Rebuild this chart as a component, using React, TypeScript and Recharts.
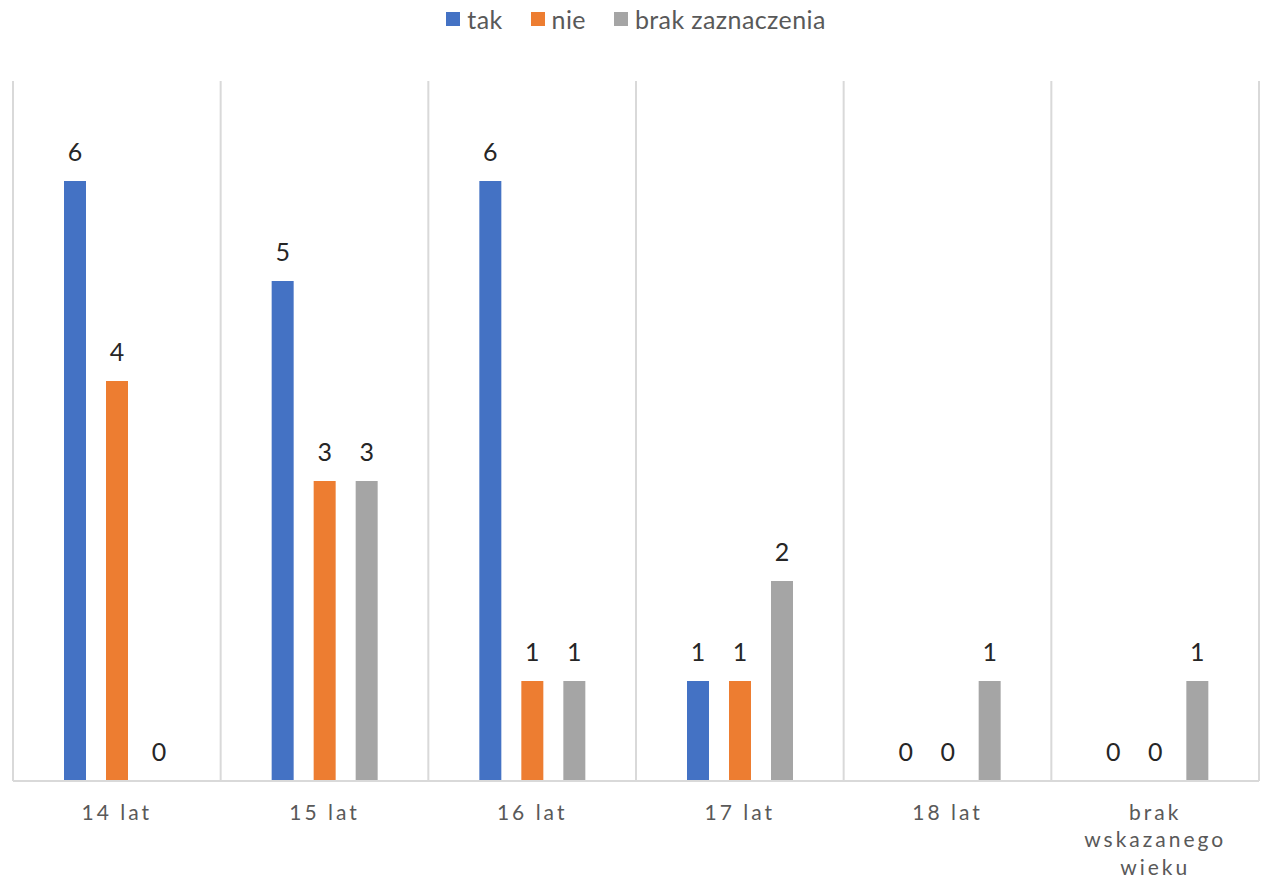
import React from 'react';
import { BarChart, Bar, XAxis, YAxis, CartesianGrid, Legend, LabelList, Text } from 'recharts';

const categories = ['14 lat', '15 lat', '16 lat', '17 lat', '18 lat', 'brak wskazanego wieku'];
const takValues = [6, 5, 6, 1, 0, 0];
const nieValues = [4, 3, 1, 1, 0, 0];
const brakValues = [0, 3, 1, 2, 1, 1];
const seriesNames = ['tak', 'nie', 'brak zaznaczenia'];
const seriesKeys = ['tak', 'nie', 'brak'];
const seriesColors = ['#4472C4', '#ED7D31', '#A5A5A5'];

const data = categories.map((c, i) => ({
  name: c,
  tak: takValues[i],
  nie: nieValues[i],
  brak: brakValues[i],
}));

const FONT = 'Lato, "Open Sans", sans-serif';

const Tick = (props: any) => {
  const { x, y, payload } = props;
  return (
    <Text
      x={x}
      y={y + 16}
      width={80}
      textAnchor="middle"
      verticalAnchor="start"
      lineHeight={27.5}
      style={{ fontFamily: FONT, fontSize: 21, letterSpacing: 3, fill: '#595959' }}
    >
      {payload.value}
    </Text>
  );
};

const ValueLabel = (props: any) => {
  const { x, y, width, value } = props;
  if (value === undefined || value === null) return null;
  return (
    <text
      x={Number(x) + Number(width) / 2}
      y={Number(y) - 20}
      textAnchor="middle"
      style={{ fontFamily: FONT, fontSize: 25, fill: '#262626' }}
    >
      {value}
    </text>
  );
};

const LegendContent = () => (
  <div style={{ display: 'flex', justifyContent: 'center', gap: 28, fontFamily: FONT, fontSize: 25, color: '#595959' }}>
    {seriesNames.map((n, i) => (
      <div key={n} style={{ display: 'flex', alignItems: 'center' }}>
        <span style={{ display: 'inline-block', width: 14, height: 14, background: seriesColors[i], marginRight: 7 }} />
        <span style={{ letterSpacing: 0.4 }}>{n}</span>
      </div>
    ))}
  </div>
);

export default function App() {
  return (
    <div style={{ position: 'absolute', left: 0, top: 0, background: '#fff' }}>
      <BarChart
        width={1263}
        height={883}
        data={data}
        margin={{ top: 51, right: 4, left: 13, bottom: 0 }}
        barGap={20}
        barSize={22}
      >
        <CartesianGrid
          horizontal={false}
          stroke="#D9D9D9"
          strokeWidth={2}
          verticalCoordinatesGenerator={({ offset }: any) =>
            [...categories.map((_, i) => offset.left + (i * offset.width) / categories.length), offset.left + offset.width]
          }
        />
        <XAxis
          dataKey="name"
          tick={<Tick />}
          tickLine={false}
          axisLine={{ stroke: '#D9D9D9', strokeWidth: 2 }}
          interval={0}
          height={102}
        />
        <YAxis domain={[0, 7]} hide />
        <Legend verticalAlign="top" align="center" wrapperStyle={{ top: 4 }} content={<LegendContent />} />
        {seriesKeys.map((k, i) => (
          <Bar key={k} dataKey={k} name={seriesNames[i]} fill={seriesColors[i]} minPointSize={0.01} isAnimationActive={false}>
            <LabelList dataKey={k} content={<ValueLabel />} />
          </Bar>
        ))}
      </BarChart>
    </div>
  );
}
